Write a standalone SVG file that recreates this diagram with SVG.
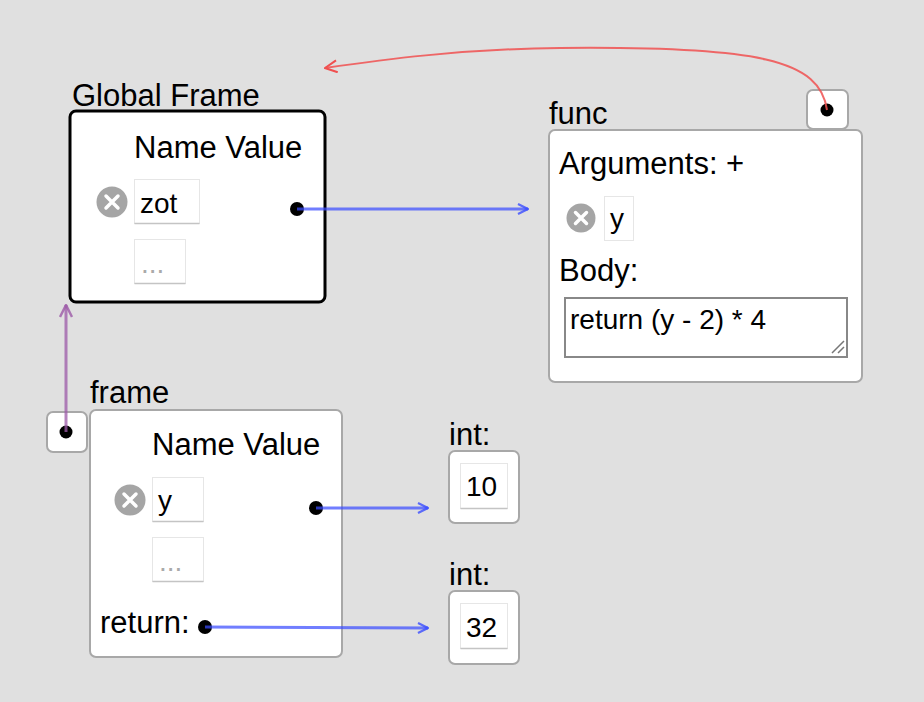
<svg xmlns="http://www.w3.org/2000/svg" width="924" height="702" viewBox="0 0 924 702">
<defs>
<style>
.t{font-family:"Liberation Sans",Arial,sans-serif;fill:#000;}
.lbl{font-size:31px;}
.inp{font-size:28px;}
.box{fill:#fff;stroke:#a8a8a8;stroke-width:2;}
.field{fill:#fff;stroke:#e6e6e6;stroke-width:1;}
.fieldb{stroke:#c4c4c4;stroke-width:1.5;}
.del{fill:#a5a5a5;}
.x{stroke:#fff;stroke-width:3.5;stroke-linecap:round;}
.dot{fill:#000;}
.blue{fill:none;stroke:#3a4cff;stroke-opacity:0.72;stroke-width:3;}
.red{fill:none;stroke:#f05050;stroke-opacity:0.85;stroke-width:2;}
.purple{fill:none;stroke:#9c5aa8;stroke-opacity:0.75;stroke-width:3;}
</style>
<marker id="ab" viewBox="0 0 12 12" refX="11" refY="6" markerWidth="12" markerHeight="12" markerUnits="userSpaceOnUse" orient="auto"><path d="M1,1 L11,6 L1,11" fill="none" stroke="#3a4cff" stroke-opacity="0.8" stroke-width="2.2"/></marker>
<marker id="ar" viewBox="0 0 14 14" refX="13" refY="7" markerWidth="14" markerHeight="14" markerUnits="userSpaceOnUse" orient="auto"><path d="M1,1 L13,7 L1,13" fill="none" stroke="#f05050" stroke-width="2"/></marker>
<marker id="ap" viewBox="0 0 14 14" refX="13" refY="7" markerWidth="14" markerHeight="14" markerUnits="userSpaceOnUse" orient="auto"><path d="M1,1 L13,7 L1,13" fill="none" stroke="#9c5aa8" stroke-opacity="0.8" stroke-width="2.5"/></marker>
</defs>
<rect width="924" height="702" fill="#e0e0e0"/>

<g id="global-frame">
<text class="t lbl" x="72" y="106">Global Frame</text>
<rect x="70" y="111" width="255" height="191" rx="6" fill="#fff" stroke="#000" stroke-width="3"/>
<text class="t lbl" x="134" y="158">Name Value</text>
<circle class="del" cx="112" cy="202" r="15.5"/>
<path class="x" d="M106,196 L118,208 M118,196 L106,208"/>
<rect class="field" x="134.5" y="179.5" width="65" height="44"/>
<line class="fieldb" x1="134.5" y1="223.5" x2="199.5" y2="223.5"/>
<text class="t inp" x="140" y="213">zot</text>
<rect class="field" x="134.5" y="239.5" width="51" height="44"/>
<line class="fieldb" x1="134.5" y1="283.5" x2="185.5" y2="283.5"/>
<text class="t inp" x="141" y="273" style="fill:#aaa">...</text>
<circle class="dot" cx="297" cy="209" r="7"/>
</g>

<g id="func">
<text class="t lbl" x="549" y="124">func</text>
<rect class="box" x="549" y="130" width="313" height="252" rx="6"/>
<text class="t lbl" x="559" y="174">Arguments: +</text>
<circle class="del" cx="581" cy="218" r="14.5"/>
<path class="x" d="M575.5,212.5 L586.5,223.5 M586.5,212.5 L575.5,223.5"/>
<rect class="field" x="604.5" y="196.5" width="29" height="44"/>
<text class="t inp" x="610" y="228">y</text>
<text class="t lbl" x="559" y="281">Body:</text>
<rect x="565" y="298" width="282" height="59" fill="#fff" stroke="#888" stroke-width="2"/>
<text class="t inp" x="570" y="329">return (y - 2) * 4</text>
<path d="M832,353 L844,341 M838,353 L844,347" stroke="#777" stroke-width="1.5"/>
</g>

<g id="func-pointer">
<rect class="box" x="807" y="90" width="41" height="39" rx="6"/>
<circle class="dot" cx="827" cy="110" r="6.5"/>
</g>

<g id="frame-pointer">
<rect class="box" x="47" y="412" width="40" height="40" rx="6"/>
<circle class="dot" cx="66" cy="432" r="6.5"/>
</g>

<g id="frame">
<text class="t lbl" x="90" y="403">frame</text>
<rect class="box" x="90" y="410" width="252" height="247" rx="6"/>
<text class="t lbl" x="152" y="455">Name Value</text>
<circle class="del" cx="130" cy="500" r="15.5"/>
<path class="x" d="M124,494 L136,506 M136,494 L124,506"/>
<rect class="field" x="152.5" y="477.5" width="51" height="44"/>
<line class="fieldb" x1="152.5" y1="521.5" x2="203.5" y2="521.5"/>
<text class="t inp" x="158" y="510">y</text>
<rect class="field" x="152.5" y="537.5" width="51" height="44"/>
<line class="fieldb" x1="152.5" y1="581.5" x2="203.5" y2="581.5"/>
<text class="t inp" x="159" y="571" style="fill:#aaa">...</text>
<circle class="dot" cx="316" cy="508" r="7"/>
<text class="t lbl" x="100" y="633">return:</text>
<circle class="dot" cx="205" cy="627" r="7"/>
</g>

<g id="int-10">
<text class="t lbl" x="449" y="445">int:</text>
<rect class="box" x="449" y="451" width="70" height="72" rx="6"/>
<rect class="field" x="460.5" y="463.5" width="47" height="45"/>
<line class="fieldb" x1="460.5" y1="508.5" x2="507.5" y2="508.5"/>
<text class="t inp" x="466" y="496">10</text>
</g>

<g id="int-32">
<text class="t lbl" x="449" y="585">int:</text>
<rect class="box" x="449" y="591" width="70" height="73" rx="6"/>
<rect class="field" x="460.5" y="603.5" width="47" height="45"/>
<line class="fieldb" x1="460.5" y1="648.5" x2="507.5" y2="648.5"/>
<text class="t inp" x="466" y="637">32</text>
</g>

<g id="connectors">
<path class="blue" d="M297,209 L528,209" marker-end="url(#ab)"/>
<path class="blue" d="M316,508 L428,508" marker-end="url(#ab)"/>
<path class="blue" d="M205,627 L428,628" marker-end="url(#ab)"/>
<path class="purple" d="M66,432 L66,305" marker-end="url(#ap)"/>
<path class="red" d="M827,110 C820,60 760,46 560,48 C460,49 380,60 325,68" marker-end="url(#ar)"/>
</g>
</svg>
